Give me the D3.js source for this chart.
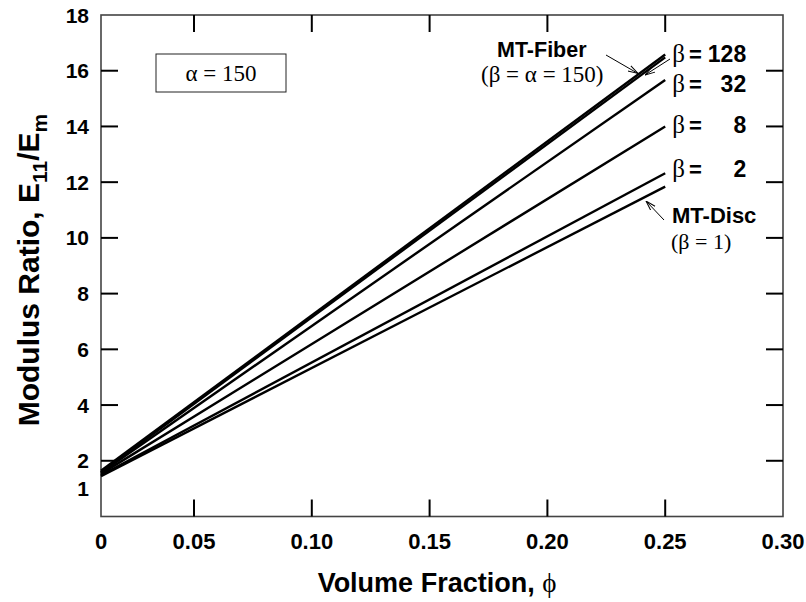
<!DOCTYPE html>
<html>
<head>
<meta charset="utf-8">
<script src="https://cdn.jsdelivr.net/npm/d3@7"></script>
<style>
  html, body { margin: 0; padding: 0; background: #fff; }
  svg { display: block; }
</style>
</head>
<body>
<svg id="chart" width="806" height="602"></svg>
<script>
// Volume fraction at which each curve starts and ends
const phiValues = [0, 0.25];

// Longitudinal modulus ratio E11/Em for each aspect ratio beta
const seriesNames = ["MT-Fiber", "128", "32", "8", "2", "MT-Disc"];
const seriesStart = [1.64, 1.59, 1.57, 1.53, 1.48, 1.45];
const seriesEnd   = [16.58, 16.48, 15.67, 14.0, 12.32, 11.84];

// Axis ticks
const xTicks = [0, 0.05, 0.10, 0.15, 0.20, 0.25, 0.30];
const xTickLabels = ["0", "0.05", "0.10", "0.15", "0.20", "0.25", "0.30"];
const yTickMarks = [2, 4, 6, 8, 10, 12, 14, 16];
const yTickLabels = [1, 2, 4, 6, 8, 10, 12, 14, 16, 18];

const svg = d3.select("#chart");
const plotL = 101, plotR = 783, plotT = 15, plotB = 516.5;

// The horizontal axis is stretched past its first division
const x = d3.scaleLinear().domain([0, 0.05, 0.30]).range([plotL, 194, plotR]);
const y = d3.scaleLinear().domain([0, 18]).range([plotB, plotT]);

const SANS = "Arial, 'Liberation Sans', Helvetica, sans-serif";
const SERIF = "'Times New Roman', 'Liberation Serif', serif";
const TICK = 17;

// Frame
svg.append("rect")
  .attr("x", plotL).attr("y", plotT)
  .attr("width", plotR - plotL).attr("height", plotB - plotT)
  .attr("fill", "none").attr("stroke", "#444").attr("stroke-width", 1.6);

// Inward tick marks on all four sides
const inner = xTicks.filter(d => d > 0 && d < 0.30);
const tickG = svg.append("g").attr("stroke", "#000").attr("stroke-width", 2);
inner.forEach(d => {
  tickG.append("line").attr("x1", x(d)).attr("x2", x(d)).attr("y1", plotB).attr("y2", plotB - TICK);
  tickG.append("line").attr("x1", x(d)).attr("x2", x(d)).attr("y1", plotT).attr("y2", plotT + TICK);
});
yTickMarks.forEach(d => {
  tickG.append("line").attr("x1", plotL).attr("x2", plotL + TICK).attr("y1", y(d)).attr("y2", y(d));
  tickG.append("line").attr("x1", plotR).attr("x2", plotR - TICK).attr("y1", y(d)).attr("y2", y(d));
});

// Tick labels
svg.append("g").selectAll("text").data(xTicks).join("text")
  .attr("x", d => x(d)).attr("y", 549)
  .attr("text-anchor", "middle")
  .attr("font-family", SANS).attr("font-weight", "bold").attr("font-size", 22)
  .text((d, i) => xTickLabels[i]);

svg.append("g").selectAll("text").data(yTickLabels).join("text")
  .attr("x", 89).attr("y", d => y(d))
  .attr("dy", "0.36em")
  .attr("text-anchor", "end")
  .attr("font-family", SANS).attr("font-weight", "bold").attr("font-size", 21)
  .text(d => d);

// Axis titles
svg.append("text")
  .attr("x", 437).attr("y", 592)
  .attr("text-anchor", "middle")
  .attr("font-family", SANS).attr("font-weight", "bold").attr("font-size", 27)
  .call(t => {
    t.append("tspan").text("Volume Fraction, ");
    t.append("tspan").attr("font-family", SERIF).attr("font-weight", "normal").text("\u03D5");
  });

const yTitle = svg.append("text")
  .attr("transform", "translate(39,270) rotate(-90)")
  .attr("text-anchor", "middle")
  .attr("font-family", SANS).attr("font-weight", "bold").attr("font-size", 30);
yTitle.append("tspan").text("Modulus Ratio, E");
yTitle.append("tspan").attr("font-size", 21).attr("dy", 8).text("11");
yTitle.append("tspan").attr("dy", -8).text("/E");
yTitle.append("tspan").attr("font-size", 21).attr("dy", 8).text("m");

// Curves
const line = d3.line().x(d => x(d[0])).y(d => y(d[1]));
svg.append("g").selectAll("path")
  .data(seriesNames.map((n, i) => [[phiValues[0], seriesStart[i]], [phiValues[1], seriesEnd[i]]]))
  .join("path")
  .attr("d", line)
  .attr("fill", "none").attr("stroke", "#000").attr("stroke-width", 2.4);

// Arrowhead
svg.append("defs").append("marker")
  .attr("id", "arrow").attr("viewBox", "0 0 10 10")
  .attr("refX", 10).attr("refY", 5)
  .attr("markerWidth", 10).attr("markerHeight", 10)
  .attr("markerUnits", "userSpaceOnUse")
  .attr("orient", "auto")
  .append("path").attr("d", "M0,2 L10,5 L0,8")
  .attr("fill", "none").attr("stroke", "#000").attr("stroke-width", 1);

const endX = x(0.25);

// Beta labels at the right-hand ends of the curves
const betaLabels = [
  { v: "128", i: 1, dy: 5 },
  { v: "32", i: 2, dy: 12 },
  { v: "8", i: 3, dy: 7 },
  { v: "2", i: 4, dy: 4 }
];
betaLabels.forEach(b => {
  const yy = y(seriesEnd[b.i]) + b.dy;
  const t = svg.append("text").attr("x", endX + 7).attr("y", yy)
    .attr("font-size", 22);
  t.append("tspan").attr("font-family", SERIF).attr("font-size", 25).text("\u03B2");
  t.append("tspan").attr("font-family", SANS).attr("font-weight", "bold").attr("dx", 4).text("=");
  svg.append("text").attr("x", endX + 81).attr("y", yy)
    .attr("text-anchor", "end")
    .attr("font-family", SANS).attr("font-weight", "bold").attr("font-size", 23)
    .text(b.v);
});

// MT-Fiber annotation
svg.append("text").attr("x", 497).attr("y", 57)
  .attr("font-family", SANS).attr("font-weight", "bold").attr("font-size", 21.5)
  .text("MT-Fiber");
svg.append("text").attr("x", 481).attr("y", 82)
  .attr("font-family", SERIF).attr("font-size", 23)
  .text("(\u03B2 = \u03B1 = 150)");
svg.append("line").attr("x1", 606).attr("y1", 55).attr("x2", 638).attr("y2", 73.5)
  .attr("stroke", "#000").attr("stroke-width", 1).attr("marker-end", "url(#arrow)");
svg.append("line").attr("x1", 670).attr("y1", 59).attr("x2", 645).attr("y2", 75)
  .attr("stroke", "#000").attr("stroke-width", 1).attr("marker-end", "url(#arrow)");

// MT-Disc annotation
svg.append("text").attr("x", 672).attr("y", 223)
  .attr("font-family", SANS).attr("font-weight", "bold").attr("font-size", 22)
  .text("MT-Disc");
svg.append("text").attr("x", 671).attr("y", 249)
  .attr("font-family", SERIF).attr("font-size", 22)
  .text("(\u03B2 = 1)");
svg.append("line").attr("x1", 664).attr("y1", 220).attr("x2", 646).attr("y2", 201)
  .attr("stroke", "#000").attr("stroke-width", 1).attr("marker-end", "url(#arrow)");

// Aspect-ratio box
svg.append("rect").attr("x", 156).attr("y", 54).attr("width", 130).attr("height", 38)
  .attr("fill", "none").attr("stroke", "#222").attr("stroke-width", 1);
svg.append("text").attr("x", 221).attr("y", 81)
  .attr("text-anchor", "middle")
  .attr("font-family", SERIF).attr("font-size", 23)
  .text("\u03B1 = 150");
</script>
</body>
</html>
